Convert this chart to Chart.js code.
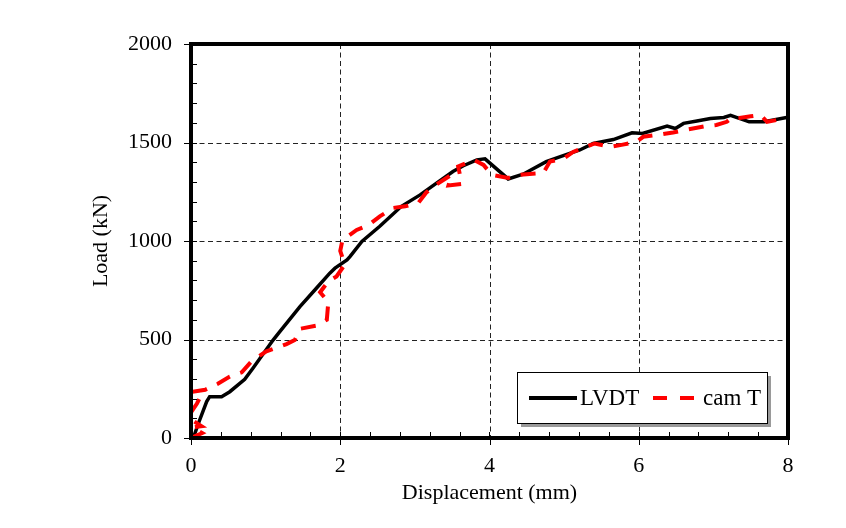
<!DOCTYPE html>
<html>
<head>
<meta charset="utf-8">
<script src="https://cdn.jsdelivr.net/npm/chart.js@4.4.0/dist/chart.umd.min.js"></script>
<style>
    body { margin: 0; background: #fff; }
    #grafica { display: block; }
</style>
</head>
<body>
<canvas id="grafica" width="846" height="528"></canvas>
<script>
// datos
var lvdtX = [0.03, 0.11, 0.21, 0.25, 0.41, 0.52, 0.72, 0.83, 1.10, 1.19, 1.46, 1.68, 1.86, 1.93, 2.09, 2.13, 2.29, 2.53, 2.82, 3.07, 3.29, 3.51, 3.65, 3.83, 3.94, 4.25, 4.45, 4.76, 4.94, 5.21, 5.39, 5.66, 5.91, 6.05, 6.38, 6.49, 6.60, 6.78, 6.96, 7.14, 7.23, 7.48, 7.68, 7.98, 8.00];
var lvdtY = [0, 85, 185, 210, 210, 235, 298, 354, 497, 540, 667, 760, 837, 862, 904, 921, 998, 1075, 1176, 1234, 1294, 1353, 1382, 1412, 1417, 1315, 1339, 1403, 1427, 1462, 1495, 1515, 1549, 1546, 1583, 1571, 1597, 1609, 1622, 1627, 1638, 1605, 1605, 1627, 1627];

var camX = [0.00, 0.15, 0.02, 0.14, 0.02, 0.00, 0.08, 0.12, 0.02, 0.19, 0.36, 0.52, 0.68, 0.81, 1.01, 1.28, 1.39, 1.47, 1.68, 1.82, 1.84, 1.73, 1.84, 1.95, 2.06, 2.00, 2.03, 2.22, 2.38, 2.53, 2.71, 2.87, 3.05, 3.15, 3.25, 3.49, 3.45, 3.63, 3.58, 3.79, 3.92, 4.03, 4.25, 4.39, 4.72, 4.81, 5.00, 5.12, 5.21, 5.41, 5.62, 5.77, 5.97, 6.06, 6.26, 6.46, 6.60, 6.89, 7.04, 7.18, 7.25, 7.35, 7.50, 7.63, 7.72, 7.92, 8.00];
var camY = [0, 25, 55, 60, 90, 130, 175, 205, 235, 245, 275, 312, 333, 389, 440, 477, 497, 555, 570, 600, 690, 740, 795, 820, 880, 950, 1005, 1056, 1081, 1125, 1168, 1176, 1195, 1245, 1277, 1336, 1282, 1290, 1378, 1412, 1386, 1336, 1320, 1336, 1345, 1403, 1420, 1452, 1466, 1495, 1478, 1488, 1503, 1529, 1539, 1551, 1562, 1583, 1589, 1605, 1627, 1625, 1633, 1640, 1605, 1619, 1622];

var xTicks = [0, 2, 4, 6, 8];
var yTicks = [0, 500, 1000, 1500, 2000];
var xMinor = 0.4;
var yMinor = 100;

var fuente = "'Liberation Serif', 'Times New Roman', serif";

function puntos(xs, ys) {
    return xs.map(function(x, i){ return {x: x, y: ys[i]}; });
}

// marco, rejilla, marcas y leyenda
var marco = {
    id: 'marco',
    beforeDatasetsDraw: function(chart) {
        var ctx = chart.ctx, a = chart.chartArea;
        var sx = chart.scales.x, sy = chart.scales.y;
        ctx.save();
        ctx.strokeStyle = '#222';
        ctx.lineWidth = 1;
        ctx.setLineDash([5, 3.5]);
        xTicks.slice(1, -1).forEach(function(v){
            var px = Math.round(sx.getPixelForValue(v)) + 0.5;
            ctx.beginPath(); ctx.moveTo(px, a.top); ctx.lineTo(px, a.bottom); ctx.stroke();
        });
        yTicks.slice(1, -1).forEach(function(v){
            var py = Math.round(sy.getPixelForValue(v)) + 0.5;
            ctx.beginPath(); ctx.moveTo(a.left, py); ctx.lineTo(a.right, py); ctx.stroke();
        });
        ctx.restore();
    },
    afterDatasetsDraw: function(chart) {
        var ctx = chart.ctx, a = chart.chartArea;
        var sx = chart.scales.x, sy = chart.scales.y;
        ctx.save();
        ctx.strokeStyle = '#000';
        ctx.setLineDash([]);

        // marcas menores y mayores
        ctx.lineWidth = 1;
        var v, px, py;
        for (v = xTicks[0]; v <= xTicks[xTicks.length - 1] + 1e-9; v += xMinor) {
            px = Math.round(sx.getPixelForValue(v)) + 0.5;
            ctx.beginPath(); ctx.moveTo(px, a.bottom); ctx.lineTo(px, a.bottom - 6); ctx.stroke();
        }
        for (v = yTicks[0]; v <= yTicks[yTicks.length - 1]; v += yMinor) {
            py = Math.round(sy.getPixelForValue(v)) + 0.5;
            ctx.beginPath(); ctx.moveTo(a.left, py); ctx.lineTo(a.left + 6, py); ctx.stroke();
        }
        xTicks.forEach(function(t){
            px = Math.round(sx.getPixelForValue(t)) + 0.5;
            ctx.beginPath(); ctx.moveTo(px, a.bottom); ctx.lineTo(px, a.bottom + 7); ctx.stroke();
        });
        yTicks.forEach(function(t){
            py = Math.round(sy.getPixelForValue(t)) + 0.5;
            ctx.beginPath(); ctx.moveTo(a.left, py); ctx.lineTo(a.left - 7, py); ctx.stroke();
        });

        // marco grueso
        ctx.lineWidth = 4;
        ctx.strokeRect(a.left, a.top, a.right - a.left, a.bottom - a.top);

        // leyenda
        var bx = a.right - 271, by = a.bottom - 66, bw = 250, bh = 51;
        ctx.fillStyle = '#9a9a9a';
        ctx.fillRect(bx + 4, by + 4, bw, bh);
        ctx.fillStyle = '#fff';
        ctx.fillRect(bx, by, bw, bh);
        ctx.lineWidth = 1;
        ctx.strokeStyle = '#000';
        ctx.strokeRect(bx + 0.5, by + 0.5, bw, bh);

        var ds = chart.data.datasets;
        var ly = by + 26;
        ctx.lineWidth = 4;
        ctx.strokeStyle = ds[1].borderColor;
        ctx.beginPath(); ctx.moveTo(bx + 12, ly); ctx.lineTo(bx + 60, ly); ctx.stroke();
        ctx.strokeStyle = ds[0].borderColor;
        ctx.setLineDash([14, 13]);
        ctx.beginPath(); ctx.moveTo(bx + 136, ly); ctx.lineTo(bx + 178, ly); ctx.stroke();
        ctx.setLineDash([]);

        ctx.fillStyle = '#000';
        ctx.font = "23px " + fuente;
        ctx.textBaseline = 'alphabetic';
        ctx.textAlign = 'left';
        ctx.fillText(ds[1].label, bx + 63, by + 33);
        ctx.fillText(ds[0].label, bx + 186, by + 33);
        ctx.restore();
    }
};

var gra = document.getElementById("grafica").getContext("2d");

var chart = new Chart(gra, {
    type: 'line',
    data: {
        datasets: [
            {
                label: 'cam T',
                data: puntos(camX, camY),
                borderColor: '#ff0000',
                borderWidth: 4,
                borderDash: [15, 11],
                pointRadius: 0,
                tension: 0,
                order: 0
            },
            {
                label: 'LVDT',
                data: puntos(lvdtX, lvdtY),
                borderColor: '#000000',
                borderWidth: 3.5,
                pointRadius: 0,
                tension: 0,
                order: 1
            }
        ]
    },
    options: {
        responsive: false,
        animation: false,
        layout: { padding: { top: 44, right: 58, left: 0, bottom: 0 } },
        plugins: {
            legend: { display: false },
            tooltip: { enabled: false }
        },
        scales: {
            x: {
                type: 'linear',
                min: 0,
                max: 8,
                afterFit: function(s){ s.height = 90; },
                afterBuildTicks: function(s){ s.ticks = xTicks.map(function(v){ return {value: v}; }); },
                grid: { display: false, drawTicks: false },
                border: { display: false },
                ticks: {
                    color: '#000', padding: 15, maxRotation: 0,
                    font: { family: fuente, size: 22 },
                    callback: function(v){ return String(v); }
                },
                title: {
                    display: true,
                    text: 'Displacement (mm)',
                    color: '#000',
                    padding: { top: 0, bottom: 22 },
                    font: { family: fuente, size: 22 }
                }
            },
            y: {
                type: 'linear',
                min: 0,
                max: 2000,
                afterFit: function(s){ s.width = 191; },
                afterBuildTicks: function(s){ s.ticks = yTicks.map(function(v){ return {value: v}; }); },
                grid: { display: false, drawTicks: false },
                border: { display: false },
                ticks: {
                    color: '#000', padding: 19,
                    font: { family: fuente, size: 22 },
                    callback: function(v){ return String(v); }
                },
                title: {
                    display: true,
                    text: 'Load (kN)',
                    color: '#000',
                    padding: { top: 88, bottom: 0 },
                    font: { family: fuente, size: 22 }
                }
            }
        }
    },
    plugins: [marco]
});
</script>
</body>
</html>
